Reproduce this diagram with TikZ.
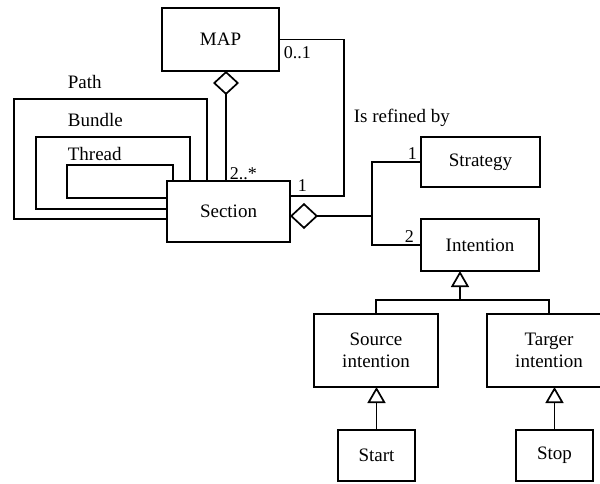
\documentclass[tikz,border=0pt]{standalone}
\usepackage{fontspec}
\setmainfont{Liberation Serif}
\usetikzlibrary{arrows.meta}
\begin{document}
\begin{tikzpicture}[x=1pt,y=-1pt,line width=1.7pt,
  cls/.style={draw, inner sep=0pt, outer sep=0pt, align=center,
    font=\fontsize{19}{22}\selectfont},
  lbl/.style={anchor=base west, inner sep=0pt, font=\fontsize{19}{22}\selectfont},
  mult/.style={anchor=base west, inner sep=0pt, font=\fontsize{18}{21}\selectfont},
  aggr/.style={{Diamond[open,length=#1,width=26pt]}-},
  gen/.style={-{Triangle[open,length=16pt,width=18pt]}}]
\useasboundingbox (0,0) rectangle (600,483);

% classes
\node[cls, minimum width=117pt, minimum height=63pt] (MAP) at (220.5,39.5) {MAP};
\node[cls, minimum width=123pt, minimum height=61pt] (Section) at (228.5,211.5) {Section};
\node[cls, minimum width=119pt, minimum height=50pt] (Strategy) at (480.5,162) {Strategy};
\node[cls, minimum width=118pt, minimum height=52pt] (Intention) at (480,245) {Intention};
\node[cls, minimum width=124pt, minimum height=73pt] (Source) at (376,350.5) {Source\\intention};
\node[cls, minimum width=124pt, minimum height=73pt] (Target) at (549,350.5) {Targer\\intention};
\node[cls, minimum width=77pt, minimum height=51pt] (Start) at (376.5,455.5) {Start};
\node[cls, minimum width=77pt, minimum height=51pt] (Stop) at (554.5,455.5) {Stop};

% bends of the connectors
\coordinate (k) at (226,0);
\coordinate (r1) at (344,196);
\coordinate (j) at (372,216);
\coordinate (g) at (460,300);
\coordinate (pTR) at (207,99);  \coordinate (pBL) at (14,219);
\coordinate (bTR) at (190,137); \coordinate (bBL) at (36,209);
\coordinate (tTR) at (173,165); \coordinate (tBL) at (67,198);

% MAP aggregates sections
\draw[aggr=24pt] (MAP.south -| k) -- (Section.north -| k);
% MAP is refined by a section
\draw (MAP.east) -| (r1) -- (Section.east |- r1);

% reflexive associations of Section
\draw (Section.north -| pTR) -- (pTR) -| (pBL) -- (Section.west |- pBL);
\draw (Section.north -| bTR) -- (bTR) -| (bBL) -- (Section.west |- bBL);
\draw (Section.north -| tTR) -- (tTR) -| (tBL) -- (Section.west |- tBL);
\node[lbl] (lPath) at (67,88) {Path};
\node[lbl] (lBundle) at (67,126.5) {Bundle};
\node[lbl] (lThread) at (67,160) {Thread};

% Section aggregates a strategy and two intentions
\draw[aggr=28pt] (Section.east |- j) -- (j);
\draw (Strategy.west) -| (j);
\draw (Intention.west) -| (j);

% generalisations
\draw[gen] (g) -- (Intention.south -| g);
\draw (Source.north) |- (g) -| (Target.north);
\draw[gen] (Start.north) -- (Source.south -| Start.north);
\draw[gen] (Stop.north) -- (Target.south -| Stop.north);

% multiplicities and role
\node[mult] (m01) at (283,58) {0..1};
\node[mult] (m2s) at (229,179) {2..*};
\node[mult] (m1a) at (297,191) {1};
\node[lbl] (refined) at (353,122) {Is refined by};
\node[mult] (m1b) at (407,159) {1};
\node[mult] (m2) at (404,242) {2};
\end{tikzpicture}
\end{document}
